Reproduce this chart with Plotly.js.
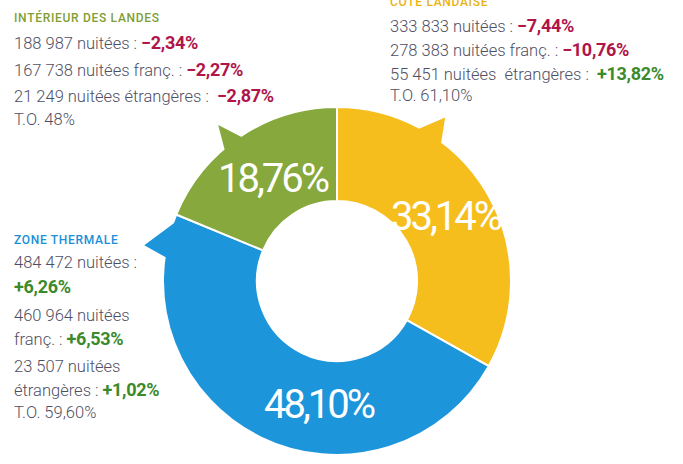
<!DOCTYPE html>
<html>
<head>
<meta charset="utf-8">
<script src="https://cdn.plot.ly/plotly-3.0.1.min.js"></script>
<style>
  html, body { margin: 0; padding: 0; background: #ffffff; }
  #chart { width: 683px; height: 464px; }
</style>
</head>
<body>
<div id="chart"></div>
<script>
// Data
const zones = ['CÔTE LANDAISE', 'ZONE THERMALE', 'INTÉRIEUR DES LANDES'];
const nuitees = [333833, 484472, 188987];
const nuiteesFr = [278383, 460964, 167738];
const nuiteesEtr = [55451, 23507, 21249];
const evolTotal = ['-7,44%', '+6,26%', '-2,34%'];
const evolFr = ['-10,76%', '+6,53%', '-2,27%'];
const evolEtr = ['+13,82%', '+1,02%', '-2,87%'];
const tauxOcc = ['61,10%', '59,60%', '48%'];
const colors = ['#f6be1c', '#1d95db', '#86a83c'];
const titleColors = ['#e9b213', '#1a8fd8', '#7f9e36'];

const W = 683, H = 464;
const center = [337, 281];
const radius = 174;

const red = '#b0154a', green = '#3b8a2c', grey = '#4f4f63';
const sans = 'Roboto, "DejaVu Sans", sans-serif';

function fmt(n) {
    return String(n).replace(/\B(?=(\d{3})+(?!\d))/g, ' ');
}
function evol(s) {
    const c = s[0] === '-' ? red : green;
    return '<b style="color:' + c + ';font-size:18px;letter-spacing:-0.3px">' + s.replace('-', '−') + '</b>';
}
function head(s) {
    return '<span style="letter-spacing:0.7px">' + s + '</span>';
}
function px(x) { return x / W; }
function py(y) { return 1 - y / H; }

const bodyFont = { family: sans, size: 16.5, color: grey, weight: 300 };
const headFont = { family: sans, size: 12, weight: 500 };

const annotations = [];
function line(x, y, text, font) {
    annotations.push({
        xref: 'paper', yref: 'paper', x: px(x), y: py(y),
        xanchor: 'left', yanchor: 'middle', showarrow: false,
        align: 'left', text: text, font: font || bodyFont
    });
}

// Côte landaise (top right)
line(388, 1, head(zones[0]), Object.assign({}, headFont, { color: titleColors[0] }));
line(388, 25, fmt(nuitees[0]) + ' nuitées : ' + evol(evolTotal[0]));
line(388, 49, fmt(nuiteesFr[0]) + ' nuitées franç. : ' + evol(evolFr[0]));
line(388, 73, fmt(nuiteesEtr[0]) + ' nuitées  étrangères :  ' + evol(evolEtr[0]));
line(388, 95, 'T.O. ' + tauxOcc[0]);

// Intérieur des Landes (top left)
line(12, 17, head(zones[2]), Object.assign({}, headFont, { color: titleColors[2] }));
line(12, 43, fmt(nuitees[2]) + ' nuitées : ' + evol(evolTotal[2]));
line(12, 69, fmt(nuiteesFr[2]) + ' nuitées franç. : ' + evol(evolFr[2]));
line(12, 96, fmt(nuiteesEtr[2]) + ' nuitées étrangères :  ' + evol(evolEtr[2]));
line(12, 120, 'T.O. ' + tauxOcc[2]);

// Zone thermale (bottom left)
line(12, 240, head(zones[1]), Object.assign({}, headFont, { color: titleColors[1] }));
line(12, 262, fmt(nuitees[1]) + ' nuitées :');
line(12, 286, evol(evolTotal[1]));
line(12, 315, fmt(nuiteesFr[1]) + ' nuitées');
line(12, 338, 'franç. : ' + evol(evolFr[1]));
line(12, 366, fmt(nuiteesEtr[1]) + ' nuitées');
line(12, 389, 'étrangères : ' + evol(evolEtr[1]));
line(12, 412, 'T.O. ' + tauxOcc[1]);

// percentage labels at the middle of each slice (angles clockwise from top)
const total = nuitees.reduce((a, b) => a + b, 0);
const labelShift = [0, -18, 2];
const labelRadius = [127, 125, 120];
function pt(angle, r) {
    const t = angle * Math.PI / 180;
    return [px(center[0] + r * Math.sin(t)), py(center[1] - r * Math.cos(t))];
}
let cum = 0;
nuitees.forEach((v, i) => {
    const mid = (cum + v / 2) / total * 360 + labelShift[i];
    cum += v;
    const p = pt(mid, labelRadius[i]);
    annotations.push({
        xref: 'paper', yref: 'paper', x: p[0], y: p[1],
        xanchor: 'center', yanchor: 'middle', showarrow: false,
        text: '<span style="letter-spacing:-3px">' + (v / total * 100).toFixed(2).replace('.', ',') + '%</span>',
        font: { family: sans, size: 40, color: '#ffffff', weight: 400 }
    });
});

// little arrow barbs on the outer rim
const barbs = [
    { i: 0, a: [27.5, 33.5, 37.5] },
    { i: 1, a: [291, 280.5, 277.5] },
    { i: 2, a: [327, 322.7, 319] }
];
const shapes = barbs.map(b => {
    const p1 = pt(b.a[0], radius - 4), p2 = pt(b.a[1], radius + 22), p3 = pt(b.a[2], radius - 4);
    return {
        type: 'path', xref: 'paper', yref: 'paper', layer: 'above',
        path: 'M' + p1.join(',') + 'L' + p2.join(',') + 'L' + p3.join(',') + 'Z',
        fillcolor: colors[b.i], line: { width: 0 }
    };
});

const trace = {
    type: 'pie',
    labels: zones,
    values: nuitees,
    sort: false,
    direction: 'clockwise',
    rotation: 0,
    hole: 0.46,
    marker: { colors: colors, line: { color: '#ffffff', width: 2 } },
    textinfo: 'none',
    domain: {
        x: [px(center[0] - radius), px(center[0] + radius)],
        y: [py(center[1] + radius), py(center[1] - radius)]
    },
    hoverinfo: 'label+percent'
};

const layout = {
    width: W,
    height: H,
    margin: { l: 0, r: 0, t: 0, b: 0 },
    paper_bgcolor: '#ffffff',
    separators: ', ',
    showlegend: false,
    annotations: annotations,
    shapes: shapes
};

Plotly.newPlot('chart', [trace], layout, { displayModeBar: false, staticPlot: true });
</script>
</body>
</html>
